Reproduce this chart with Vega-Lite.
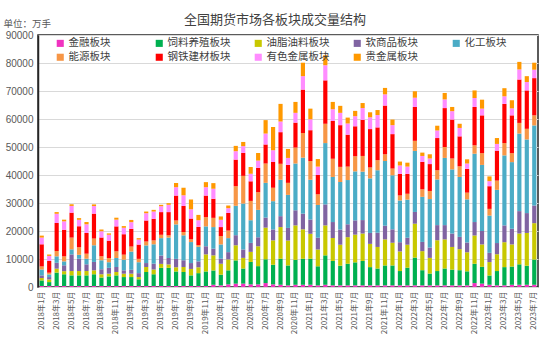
{
  "$schema": "https://vega.github.io/schema/vega-lite/v6.json",
  "width": 500,
  "height": 252,
  "autosize": {"type": "none"},
  "padding": {"left": 38, "top": 35, "right": 12, "bottom": 53},
  "background": "white",
  "config": {
    "font": "Noto Sans CJK SC",
    "view": {"stroke": "#262626", "strokeWidth": 1.5}
  },
  "title": {
    "text": "全国期货市场各板块成交量结构",
    "fontSize": 13,
    "fontWeight": "normal",
    "color": "#404040",
    "font": "Noto Sans CJK SC",
    "anchor": "middle",
    "dx": -13,
    "offset": -9
  },
  "data": {
    "values": [
      {"m":"2018年1月","金融板块":350,"饲料养殖板块":2000,"油脂油料板块":850,"软商品板块":950,"化工板块":2100,"能源板块":1100,"钢铁建材板块":7900,"有色金属板块":2400,"贵金属板块":700},
      {"m":"2018年2月","金融板块":350,"饲料养殖板块":1400,"油脂油料板块":950,"软商品板块":850,"化工板块":950,"能源板块":600,"钢铁建材板块":4200,"有色金属板块":1800,"贵金属板块":500},
      {"m":"2018年3月","金融板块":350,"饲料养殖板块":4800,"油脂油料板块":1400,"软商品板块":2100,"化工板块":2300,"能源板块":1900,"钢铁建材板块":10000,"有色金属板块":3300,"贵金属板块":600},
      {"m":"2018年4月","金融板块":350,"饲料养殖板块":4200,"油脂油料板块":1100,"软商品板块":2100,"化工板块":1400,"能源板块":1800,"钢铁建材板块":9500,"有色金属板块":3000,"贵金属板块":600},
      {"m":"2018年5月","金融板块":350,"饲料养殖板块":3800,"油脂油料板块":1550,"软商品板块":5950,"化工板块":1800,"能源板块":4200,"钢铁建材板块":8900,"有色金属板块":2400,"贵金属板块":600},
      {"m":"2018年6月","金融板块":350,"饲料养殖板块":3800,"油脂油料板块":1550,"软商品板块":4400,"化工板块":1400,"能源板块":2700,"钢铁建材板块":7500,"有色金属板块":2300,"贵金属板块":600},
      {"m":"2018年7月","金融板块":350,"饲料养殖板块":3800,"油脂油料板块":1550,"软商品板块":2400,"化工板块":2000,"能源板块":1800,"钢铁建材板块":7400,"有色金属板块":3100,"贵金属板块":800},
      {"m":"2018年8月","金融板块":350,"饲料养殖板块":4200,"油脂油料板块":1400,"软商品板块":3000,"化工板块":5950,"能源板块":2400,"钢铁建材板块":8900,"有色金属板块":2700,"贵金属板块":600},
      {"m":"2018年9月","金融板块":350,"饲料养殖板块":3000,"油脂油料板块":1200,"软商品板块":1800,"化工板块":3200,"能源板块":1400,"钢铁建材板块":6700,"有色金属板块":2300,"贵金属板块":600},
      {"m":"2018年10月","金融板块":350,"饲料养殖板块":3450,"油脂油料板块":950,"软商品板块":2100,"化工板块":2000,"能源板块":1500,"钢铁建材板块":6200,"有色金属板块":2100,"贵金属板块":500},
      {"m":"2018年11月","金融板块":350,"饲料养殖板块":3800,"油脂油料板块":1200,"软商品板块":1800,"化工板块":3200,"能源板块":2400,"钢铁建材板块":8900,"有色金属板块":2400,"贵金属板块":700},
      {"m":"2018年12月","金融板块":350,"饲料养殖板块":3200,"油脂油料板块":1200,"软商品板块":1200,"化工板块":3800,"能源板块":1800,"钢铁建材板块":7300,"有色金属板块":2300,"贵金属板块":600},
      {"m":"2019年1月","金融板块":350,"饲料养殖板块":3200,"油脂油料板块":1200,"软商品板块":1400,"化工板块":6500,"能源板块":1800,"钢铁建材板块":6300,"有色金属板块":2400,"贵金属板块":800},
      {"m":"2019年2月","金融板块":350,"饲料养殖板块":2400,"油脂油料板块":800,"软商品板块":1400,"化工板块":3900,"能源板块":1200,"钢铁建材板块":5100,"有色金属板块":1800,"贵金属板块":500},
      {"m":"2019年3月","金融板块":350,"饲料养殖板块":5000,"油脂油料板块":1800,"软商品板块":1400,"化工板块":6300,"能源板块":1400,"钢铁建材板块":7500,"有色金属板块":2600,"贵金属板块":600},
      {"m":"2019年4月","金融板块":350,"饲料养殖板块":4200,"油脂油料板块":1700,"软商品板块":2100,"化工板块":6900,"能源板块":1400,"钢铁建材板块":7700,"有色金属板块":2600,"贵金属板块":600},
      {"m":"2019年5月","金融板块":350,"饲料养殖板块":6500,"油脂油料板块":1400,"软商品板块":3000,"化工板块":6200,"能源板块":1200,"钢铁建材板块":8100,"有色金属板块":2100,"贵金属板块":500},
      {"m":"2019年6月","金融板块":350,"饲料养殖板块":6500,"油脂油料板块":1200,"软商品板块":2300,"化工板块":7300,"能源板块":800,"钢铁建材板块":8300,"有色金属板块":2600,"贵金属板块":600},
      {"m":"2019年7月","金融板块":350,"饲料养殖板块":5200,"油脂油料板块":1500,"软商品板块":3000,"化工板块":12300,"能源板块":1400,"钢铁建材板块":8900,"有色金属板块":3000,"贵金属板块":1500},
      {"m":"2019年8月","金融板块":350,"饲料养殖板块":5000,"油脂油料板块":1800,"软商品板块":2400,"化工板块":8900,"能源板块":1200,"钢铁建材板块":9300,"有色金属板块":3800,"贵金属板块":2700},
      {"m":"2019年9月","金融板块":350,"饲料养殖板块":3800,"油脂油料板块":2300,"软商品板块":2100,"化工板块":7500,"能源板块":1000,"钢铁建材板块":7400,"有色金属板块":3300,"贵金属板块":3500},
      {"m":"2019年10月","金融板块":350,"饲料养殖板块":4600,"油脂油料板块":2100,"软商品板块":2100,"化工板块":5200,"能源板块":600,"钢铁建材板块":6500,"有色金属板块":2400,"贵金属板块":1900},
      {"m":"2019年11月","金融板块":350,"饲料养殖板块":5200,"油脂油料板块":6100,"软商品板块":2900,"化工板块":7100,"能源板块":3300,"钢铁建材板块":7700,"有色金属板块":3000,"贵金属板块":1800},
      {"m":"2019年12月","金融板块":800,"饲料养殖板块":5100,"油脂油料板块":5400,"软商品板块":2400,"化工板块":7700,"能源板块":3300,"钢铁建材板块":6800,"有色金属板块":3600,"贵金属板块":2000},
      {"m":"2020年1月","金融板块":600,"饲料养殖板块":3800,"油脂油料板块":3900,"软商品板块":1800,"化工板块":5100,"能源板块":3000,"钢铁建材板块":3200,"有色金属板块":2600,"贵金属板块":1200},
      {"m":"2020年2月","金融板块":950,"饲料养殖板块":5000,"油脂油料板块":3900,"软商品板块":2600,"化工板块":5000,"能源板块":2700,"钢铁建材板块":6300,"有色金属板块":1700,"贵金属板块":950},
      {"m":"2020年3月","金融板块":1200,"饲料养殖板块":8300,"油脂油料板块":5400,"软商品板块":3600,"化工板块":10500,"能源板块":7000,"钢铁建材板块":9500,"有色金属板块":3000,"贵金属板块":1900},
      {"m":"2020年4月","金融板块":1200,"饲料养殖板块":5400,"油脂油料板块":3800,"软商品板块":3000,"化工板块":16400,"能源板块":9900,"钢铁建材板块":8200,"有色金属板块":2400,"贵金属板块":1500},
      {"m":"2020年5月","金融板块":950,"饲料养殖板块":8000,"油脂油料板块":3600,"软商品板块":3200,"化工板块":8100,"能源板块":6900,"钢铁建材板块":7000,"有色金属板块":2700,"贵金属板块":2400},
      {"m":"2020年6月","金融板块":950,"饲料养殖板块":6500,"油脂油料板块":7100,"软商品板块":3200,"化工板块":9800,"能源板块":6300,"钢铁建材板块":8700,"有色金属板块":2600,"贵金属板块":2700},
      {"m":"2020年7月","金融板块":1400,"饲料养殖板块":8500,"油脂油料板块":11300,"软商品板块":3600,"化工板块":12400,"能源板块":6900,"钢铁建材板块":6800,"有色金属板块":3900,"贵金属板块":4800},
      {"m":"2020年8月","金融板块":950,"饲料养殖板块":7000,"油脂油料板块":8700,"软商品板块":3900,"化工板块":10100,"能源板块":4800,"钢铁建材板块":9200,"有色金属板块":4200,"贵金属板块":8300},
      {"m":"2020年9月","金融板块":800,"饲料养殖板块":9300,"油脂油料板块":11300,"软商品板块":3900,"化工板块":13000,"能源板块":5700,"钢铁建材板块":11300,"有色金属板块":3800,"贵金属板块":6300},
      {"m":"2020年10月","金融板块":600,"饲料养殖板块":7100,"油脂油料板块":8900,"软商品板块":4500,"化工板块":11800,"能源板块":4300,"钢铁建材板块":6400,"有色金属板块":2500,"贵金属板块":3200},
      {"m":"2020年11月","金融板块":800,"饲料养殖板块":8900,"油脂油料板块":12300,"软商品板块":5400,"化工板块":16700,"能源板块":5700,"钢铁建材板块":8900,"有色金属板块":3500,"贵金属板块":3900},
      {"m":"2020年12月","金融板块":800,"饲料养殖板块":9300,"油脂油料板块":10500,"软商品板块":5600,"化工板块":20000,"能源板块":8800,"钢铁建材板块":15500,"有色金属板块":4800,"贵金属板块":4800},
      {"m":"2021年1月","金融板块":800,"饲料养殖板块":9300,"油脂油料板块":8900,"软商品板块":5100,"化工板块":14200,"能源板块":6700,"钢铁建材板块":11000,"有色金属板块":3900,"贵金属板块":3800},
      {"m":"2021年2月","金融板块":600,"饲料养殖板块":6800,"油脂油料板块":6000,"软商品板块":4200,"化工板块":11700,"能源板块":3800,"钢铁建材板块":6900,"有色金属板块":3000,"贵金属板块":2700},
      {"m":"2021年3月","金融板块":800,"饲料养殖板块":10500,"油脂油料板块":10700,"软商品板块":7500,"化工板块":21900,"能源板块":6900,"钢铁建材板块":15500,"有色金属板块":5400,"贵金属板块":3600},
      {"m":"2021年4月","金融板块":600,"饲料养殖板块":8700,"油脂油料板块":8200,"软商品板块":5700,"化工板块":16100,"能源板块":6500,"钢铁建材板块":13500,"有色金属板块":4200,"贵金属板块":2600},
      {"m":"2021年5月","金融板块":600,"饲料养殖板块":7000,"油脂油料板块":7500,"软商品板块":5400,"化工板块":17000,"能源板块":5400,"钢铁建材板块":14900,"有色金属板块":4400,"贵金属板块":2500},
      {"m":"2021年6月","金融板块":600,"饲料养殖板块":7700,"油脂油料板块":9500,"软商品板块":4600,"化工板块":15800,"能源板块":4800,"钢铁建材板块":11400,"有色金属板块":4000,"贵金属板块":2100},
      {"m":"2021年7月","金融板块":600,"饲料养殖板块":8200,"油脂油料板块":9900,"软商品板块":5100,"化工板块":17500,"能源板块":5400,"钢铁建材板块":10700,"有色金属板块":3600,"贵金属板块":1900},
      {"m":"2021年8月","金融板块":600,"饲料养殖板块":8700,"油脂油料板块":9800,"软商品板块":4800,"化工板块":17300,"能源板块":5600,"钢铁建材板块":12900,"有色金属板块":4200,"贵金属板块":1800},
      {"m":"2021年9月","金融板块":600,"饲料养殖板块":6500,"油脂油料板块":8300,"软商品板块":3900,"化工板块":19500,"能源板块":3900,"钢铁建材板块":13700,"有色金属板块":4200,"贵金属板块":1800},
      {"m":"2021年10月","金融板块":600,"饲料养殖板块":6000,"油脂油料板块":7700,"软商品板块":5100,"化工板块":22300,"能源板块":3600,"钢铁建材板块":11700,"有色金属板块":4400,"贵金属板块":1800},
      {"m":"2021年11月","金融板块":600,"饲料养殖板块":7100,"油脂油料板块":9300,"软商品板块":4900,"化工板块":23100,"能源板块":2400,"钢铁建材板块":17400,"有色金属板块":4000,"贵金属板块":2300},
      {"m":"2021年12月","金融板块":600,"饲料养殖板块":7100,"油脂油料板块":8100,"软商品板块":4800,"化工板块":19300,"能源板块":2400,"钢铁建材板块":12300,"有色金属板块":3200,"贵金属板块":2000},
      {"m":"2022年1月","金融板块":600,"饲料养殖板块":5100,"油脂油料板块":7000,"软商品板块":3300,"化工板块":14900,"能源板块":1800,"钢铁建材板块":7700,"有色金属板块":3000,"贵金属板块":1400},
      {"m":"2022年2月","金融板块":600,"饲料养殖板块":6300,"油脂油料板块":8200,"软商品板块":2500,"化工板块":13600,"能源板块":2100,"钢铁建材板块":7100,"有色金属板块":2600,"贵金属板块":1400},
      {"m":"2022年3月","金融板块":600,"饲料养殖板块":9900,"油脂油料板块":12100,"软商品板块":4200,"化工板块":21800,"能源板块":3600,"钢铁建材板块":12100,"有色金属板块":3300,"贵金属板块":2300},
      {"m":"2022年4月","金融板块":600,"饲料养殖板块":5400,"油脂油料板块":6800,"软商品板块":3300,"化工板块":16100,"能源板块":2700,"钢铁建材板块":9800,"有色金属板块":2100,"贵金属板块":1200},
      {"m":"2022年5月","金融板块":600,"饲料养殖板块":4200,"油脂油料板块":5600,"软商品板块":3700,"化工板块":17300,"能源板块":2900,"钢铁建材板块":9600,"有色金属板块":2000,"贵金属板块":1500},
      {"m":"2022年6月","金融板块":600,"饲料养殖板块":5100,"油脂油料板块":11000,"软商品板块":5400,"化工板块":16300,"能源板块":3300,"钢铁建材板块":11500,"有色金属板块":2700,"贵金属板块":1700},
      {"m":"2022年7月","金融板块":600,"饲料养殖板块":6000,"油脂油料板块":10400,"软商品板块":5100,"化工板块":24000,"能源板块":3900,"钢铁建材板块":13900,"有色金属板块":3100,"贵金属板块":2300},
      {"m":"2022年8月","金融板块":600,"饲料养殖板块":5600,"油脂油料板块":8100,"软商品板块":4800,"化工板块":22900,"能源板块":3900,"钢铁建材板块":13900,"有色金属板块":3000,"贵金属板块":1500},
      {"m":"2022年9月","金融板块":600,"饲料养殖板块":5400,"油脂油料板块":7500,"软商品板块":4400,"化工板块":21400,"能源板块":3800,"钢铁建材板块":10700,"有色金属板块":3000,"贵金属板块":1500},
      {"m":"2022年10月","金融板块":600,"饲料养殖板块":5000,"油脂油料板块":6800,"软商品板块":3500,"化工板块":15400,"能源板块":2400,"钢铁建材板块":8500,"有色金属板块":1900,"贵金属板块":1500},
      {"m":"2022年11月","金融板块":1400,"饲料养殖板块":6900,"油脂油料板块":10100,"软商品板块":4800,"化工板块":24400,"能源板块":3000,"钢铁建材板块":13700,"有色金属板块":3200,"贵金属板块":2700},
      {"m":"2022年12月","金融板块":1200,"饲料养殖板块":6000,"油脂油料板块":8000,"软商品板块":4800,"化工板块":23600,"能源板块":4200,"钢铁建材板块":13500,"有色金属板块":2400,"贵金属板块":3200},
      {"m":"2023年1月","金融板块":800,"饲料养殖板块":3300,"油脂油料板块":4800,"软商品板块":3300,"化工板块":13300,"能源板块":2400,"钢铁建材板块":8100,"有色金属板块":1800,"贵金属板块":1700},
      {"m":"2023年2月","金融板块":600,"饲料养殖板块":5100,"油脂油料板块":6000,"软商品板块":4000,"化工板块":19000,"能源板块":3300,"钢铁建材板块":10700,"有色金属板块":2400,"贵金属板块":2100},
      {"m":"2023年3月","金融板块":600,"饲料养殖板块":6500,"油脂油料板块":8900,"软商品板块":6000,"化工板块":25000,"能源板块":4400,"钢铁建材板块":14000,"有色金属板块":2700,"贵金属板块":2900},
      {"m":"2023年4月","金融板块":800,"饲料养殖板块":6500,"油脂油料板块":7900,"软商品板块":5600,"化工板块":23800,"能源板块":3200,"钢铁建材板块":13500,"有色金属板块":2500,"贵金属板块":2900},
      {"m":"2023年5月","金融板块":800,"饲料养殖板块":7300,"油脂油料板块":11000,"软商品板块":8000,"化工板块":27700,"能源板块":3800,"钢铁建材板块":15500,"有色金属板块":3600,"贵金属板块":2700},
      {"m":"2023年6月","金融板块":800,"饲料养殖板块":6800,"油脂油料板块":11700,"软商品板块":7100,"化工板块":26300,"能源板块":3800,"钢铁建材板块":13700,"有色金属板块":3000,"贵金属板块":2100},
      {"m":"2023年7月","金融板块":800,"饲料养殖板块":9000,"油脂油料板块":13000,"软商品板块":6300,"化工板块":28600,"能源板块":3600,"钢铁建材板块":13300,"有色金属板块":3000,"贵金属板块":2500}
    ]
  },
  "transform": [
    {"fold": ["金融板块","饲料养殖板块","油脂油料板块","软商品板块","化工板块","能源板块","钢铁建材板块","有色金属板块","贵金属板块"], "as": ["s","v"]},
    {"window": [{"op": "row_number", "as": "k"}], "groupby": ["m"]}
  ],
  "mark": {"type": "bar"},
  "encoding": {
    "x": {
      "field": "m",
      "type": "nominal",
      "sort": null,
      "scale": {"paddingInner": 0.44, "paddingOuter": 0.22},
      "axis": {
        "title": null,
        "values": ["2018年1月","2018年3月","2018年5月","2018年7月","2018年9月","2018年11月","2019年1月","2019年3月","2019年5月","2019年7月","2019年9月","2019年11月","2020年1月","2020年3月","2020年5月","2020年7月","2020年9月","2020年11月","2021年1月","2021年3月","2021年5月","2021年7月","2021年9月","2021年11月","2022年1月","2022年3月","2022年5月","2022年7月","2022年9月","2022年11月","2023年1月","2023年3月","2023年5月","2023年7月"],
        "labelAngle": 270,
        "labelAlign": "right",
        "labelBaseline": "middle",
        "labelFontSize": 8,
        "labelColor": "#595959",
        "labelPadding": 4,
        "ticks": false,
        "domainColor": "#D9D9D9",
        "labelFont": "Noto Sans CJK SC"
      }
    },
    "y": {
      "field": "v",
      "type": "quantitative",
      "stack": "zero",
      "scale": {"domain": [0, 90000], "nice": false},
      "axis": {
        "title": "单位：万手",
        "titleAngle": 0,
        "titleAlign": "left",
        "titleBaseline": "alphabetic",
        "titleX": -35,
        "titleY": -9,
        "titleFontSize": 9.5,
        "titleFontWeight": "normal",
        "titleColor": "#595959",
        "titleFont": "Noto Sans CJK SC",
        "values": [0,10000,20000,30000,40000,50000,60000,70000,80000,90000],
        "format": "d",
        "labelFontSize": 10,
        "labelColor": "#595959",
        "labelFont": "Liberation Sans",
        "labelPadding": 5,
        "ticks": false,
        "domainColor": "#262626",
        "domainWidth": 1.5,
        "gridColor": "#D9D9D9",
        "gridWidth": 1
      }
    },
    "color": {
      "field": "s",
      "type": "nominal",
      "sort": ["金融板块","饲料养殖板块","油脂油料板块","软商品板块","化工板块","能源板块","钢铁建材板块","有色金属板块","贵金属板块"],
      "scale": {
        "domain": ["金融板块","饲料养殖板块","油脂油料板块","软商品板块","化工板块","能源板块","钢铁建材板块","有色金属板块","贵金属板块"],
        "range": ["#F032C0","#00B050","#C8C800","#8064A2","#4BACC6","#F79646","#FF0000","#FF8CFF","#FF9900"]
      },
      "legend": {
        "title": null,
        "orient": "none",
        "legendX": 17,
        "legendY": 3,
        "direction": "horizontal",
        "columns": 5,
        "gridAlign": "all",
        "columnPadding": 22,
        "rowPadding": 3,
        "symbolType": "square",
        "symbolSize": 50,
        "symbolStrokeWidth": 0,
        "labelFontSize": 10.5,
        "labelColor": "#404040",
        "labelFont": "Noto Sans CJK SC",
        "labelOffset": 3
      }
    },
    "order": {"field": "k", "type": "quantitative", "sort": "ascending"}
  }
}
